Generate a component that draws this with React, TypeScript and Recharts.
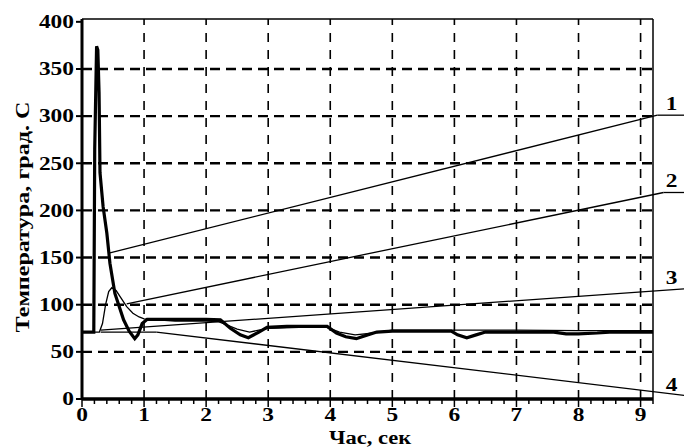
import { LineChart, Line, XAxis, YAxis, ReferenceLine, ReferenceDot } from 'recharts';

// час, сек / температура, град. С
const thickT = [0, 0.19, 0.205, 0.235, 0.255, 0.275, 0.29, 0.34, 0.4, 0.45, 0.53, 0.67, 0.76, 0.85, 0.9, 0.97, 1.05, 1.5, 2.0, 2.23, 2.39, 2.55, 2.68, 2.85, 2.98, 3.3, 3.7, 3.95, 4.1, 4.25, 4.42, 4.6, 4.75, 5.0, 5.5, 5.95, 6.05, 6.2, 6.35, 6.5, 7.0, 7.6, 7.8, 8.0, 8.3, 8.5, 9.2];
const thickV = [71, 71, 265, 374, 370, 325, 240, 204, 176, 144, 112, 84, 72, 64, 68, 80, 84.5, 84.5, 84.5, 84, 75, 68, 65, 71, 76, 77, 77, 77, 70, 66, 64, 68, 71, 72, 72, 72, 68, 65, 68, 71, 71, 71, 69, 69, 70, 71, 71];

const thinT = [0, 0.28, 0.33, 0.38, 0.43, 0.48, 0.55, 0.63, 0.72, 0.82, 0.92, 1.0, 1.5, 2.0, 2.2, 2.35, 2.5, 2.7, 2.85, 3.0, 3.5, 3.95, 4.15, 4.4, 4.7, 5.0, 6.0, 7.0, 8.0, 9.2];
const thinV = [71, 71, 80, 100, 114, 118, 115, 107, 98, 91, 87, 85, 82.5, 82.5, 82, 78, 74, 71, 73, 75, 76, 76, 71, 68, 70, 73, 73, 73, 72.5, 72.5];

// выноски 1-4
const leader1 = [{ x: 0.45, y: 155 }, { x: 9.27, y: 301 }, { x: 9.75, y: 301 }];
const leader2 = [{ x: 0.72, y: 101 }, { x: 9.37, y: 219 }, { x: 9.75, y: 219 }];
const leader3 = [{ x: 0.3, y: 73 }, { x: 9.75, y: 117 }];
const leader4 = [{ x: 0.3, y: 71 }, { x: 1.2, y: 71 }, { x: 9.75, y: 3.5 }];
const leaderNames = ['1', '2', '3', '4'];
const leaders = [leader1, leader2, leader3, leader4];

const yTicks = [0, 50, 100, 150, 200, 250, 300, 350, 400];
const xTicks = Array.from({ length: 47 }, (_, i) => Math.round(i * 2) / 10);
const gridX = [1, 2, 3, 4, 5, 6, 7, 8, 9];
const gridY = [50, 100, 150, 200, 250, 300, 350];

const thickData = thickT.map((t, i) => ({ t, v: thickV[i] }));
const thinData = thinT.map((t, i) => ({ t, v: thinV[i] }));

const FONT = "'Liberation Serif', 'Times New Roman', serif";

const YTick = ({ x, y, payload }: any) => (
  <text
    transform={`translate(${x},${y}) scale(1.3,1)`}
    textAnchor="end"
    dy="0.35em"
    fontFamily={FONT}
    fontWeight="bold"
    fontSize={18}
    fill="#000"
  >
    {payload.value}
  </text>
);

const XTick = ({ x, y, payload }: any) => {
  const major = Math.abs(payload.value - Math.round(payload.value)) < 1e-6;
  return (
    <g>
      <line x1={x} x2={x} y1={y} y2={y + (major ? 8 : 5)} stroke="#000" strokeWidth={1.5} />
      {major && (
        <text
          transform={`translate(${x},${y + 22}) scale(1.3,1)`}
          textAnchor="middle"
          fontFamily={FONT}
          fontWeight="bold"
          fontSize={18}
          fill="#000"
        >
          {payload.value}
        </text>
      )}
    </g>
  );
};

const LeaderLabel = (name: string) => (props: any) => (
  <text
    transform={`translate(${props.cx},${props.cy - 5}) scale(1.3,1)`}
    textAnchor="middle"
    fontFamily={FONT}
    fontWeight="bold"
    fontSize={18}
    fill="#000"
  >
    {name}
  </text>
);

export default function App() {
  return (
    <div style={{ position: 'absolute', left: 0, top: 0, width: 684, height: 447, background: '#fff' }}>
      <LineChart width={684} height={447} margin={{ top: 19, right: 31, bottom: 8, left: 22 }}>
        <XAxis
          type="number"
          dataKey="t"
          domain={[0, 9.2]}
          ticks={xTicks}
          interval={0}
          allowDataOverflow
          height={40}
          tickSize={0}
          tickMargin={0}
          tickLine={false}
          tick={<XTick />}
          axisLine={{ stroke: '#000', strokeWidth: 3.5 }}
        />
        <YAxis
          type="number"
          domain={[0, 403]}
          ticks={yTicks}
          interval={0}
          allowDataOverflow
          width={60}
          tickSize={6}
          tickMargin={2}
          tickLine={{ stroke: '#000', strokeWidth: 2 }}
          tick={<YTick />}
          axisLine={{ stroke: '#000', strokeWidth: 3 }}
        />
        {gridY.map((v) => (
          <ReferenceLine key={'gy' + v} y={v} stroke="#000" strokeWidth={2.4} strokeDasharray="10 6" />
        ))}
        {gridX.map((v) => (
          <ReferenceLine key={'gx' + v} x={v} stroke="#000" strokeWidth={1.6} strokeDasharray="9 8" />
        ))}
        <ReferenceLine y={403} stroke="#000" strokeWidth={1.5} />
        <ReferenceLine x={9.2} stroke="#000" strokeWidth={1.5} />
        {leaders.map((pts, li) =>
          pts.slice(1).map((p, i) => (
            <ReferenceLine
              key={'l' + li + '-' + i}
              segment={[pts[i], p]}
              ifOverflow="visible"
              stroke="#000"
              strokeWidth={1.3}
            />
          ))
        )}
        {leaders.map((pts, li) => (
          <ReferenceDot
            key={'n' + li}
            x={9.5}
            y={pts[pts.length - 1].y}
            ifOverflow="visible"
            shape={LeaderLabel(leaderNames[li])}
          />
        ))}
        <Line
          data={thinData}
          dataKey="v"
          type="linear"
          stroke="#000"
          strokeWidth={1.3}
          dot={false}
          isAnimationActive={false}
        />
        <Line
          data={thickData}
          dataKey="v"
          type="linear"
          stroke="#000"
          strokeWidth={3.2}
          dot={false}
          isAnimationActive={false}
        />
      </LineChart>
      <svg width={684} height={447} style={{ position: 'absolute', left: 0, top: 0, pointerEvents: 'none' }}>
        <text
          transform="translate(29,217) rotate(-90) scale(1.27,1)"
          textAnchor="middle"
          fontFamily={FONT}
          fontWeight="bold"
          fontSize={19}
          fill="#000"
        >
          Температура, град. С
        </text>
        <text
          transform="translate(370,444) scale(1.25,1)"
          textAnchor="middle"
          fontFamily={FONT}
          fontWeight="bold"
          fontSize={18}
          fill="#000"
        >
          Час, сек
        </text>
      </svg>
    </div>
  );
}
